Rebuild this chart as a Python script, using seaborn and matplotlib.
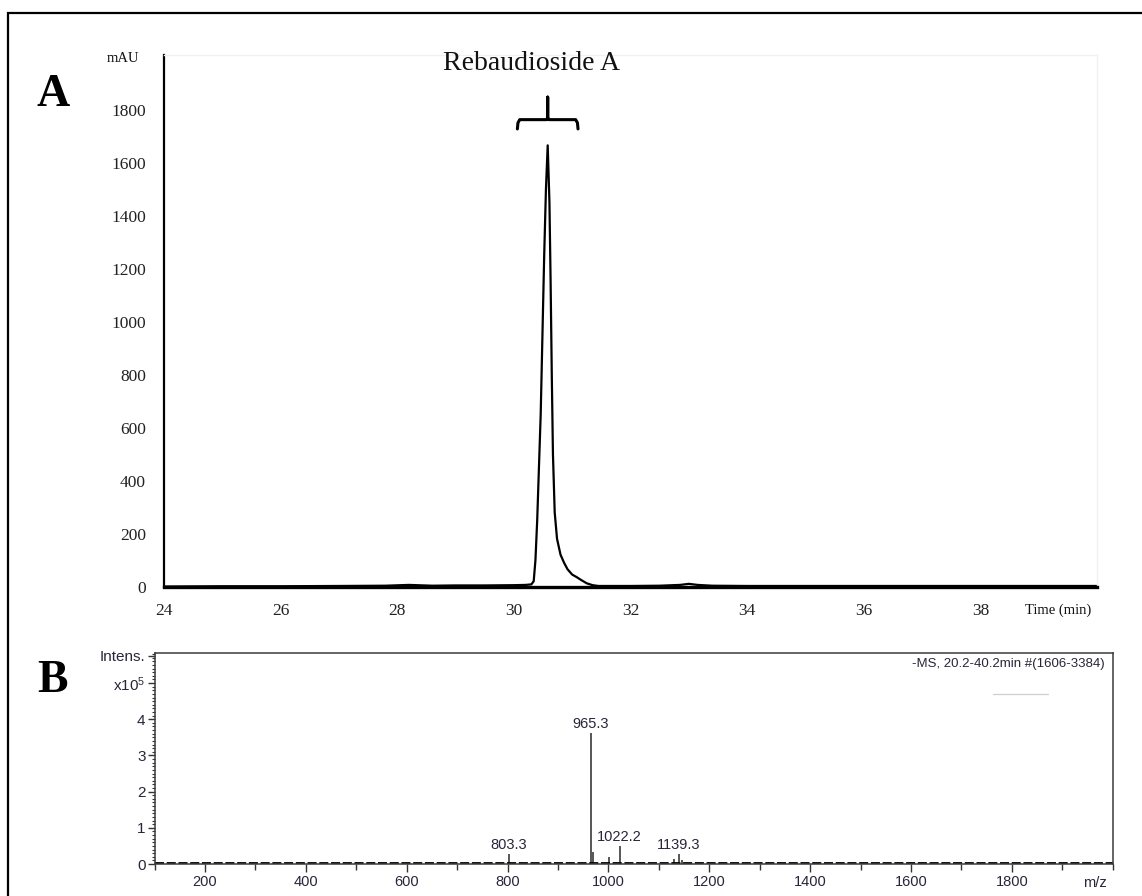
import numpy as np
import pandas as pd
import matplotlib
matplotlib.use("Agg")
import matplotlib.pyplot as plt
from matplotlib.patches import Rectangle
from matplotlib.ticker import MultipleLocator, FixedLocator
import seaborn as sns

# ---------------- data ----------------
# Panel A: HPLC chromatogram (time in min, absorbance in mAU)
time_min = [24.0, 25.0, 26.0, 27.0, 27.8, 28.2, 28.6, 29.0, 29.5, 30.0, 30.2, 30.3,
            30.34, 30.37, 30.40, 30.43, 30.46, 30.49, 30.52, 30.55, 30.58, 30.61,
            30.63, 30.65, 30.67, 30.70, 30.74, 30.80, 30.86, 30.92, 31.00, 31.08,
            31.15, 31.25, 31.35, 31.45, 31.6, 32.0, 32.5, 32.85, 33.0, 33.15, 33.4,
            34.0, 35.0, 36.0, 37.0, 38.0, 39.0, 40.0]
mau = [0, 1, 1, 2, 3, 6, 3, 4, 4, 5, 6, 8,
       20, 100, 250, 450, 650, 950, 1250, 1500, 1665, 1450,
       1150, 800, 500, 280, 180, 120, 90, 65, 45, 35,
       25, 12, 5, 2, 2, 2, 3, 6, 10, 6, 3,
       2, 2, 2, 2, 2, 2, 2]
a_yticks = [0, 200, 400, 600, 800, 1000, 1200, 1400, 1600, 1800]
a_xticks = [24, 26, 28, 30, 32, 34, 36, 38]
peak_name = "Rebaudioside A"
bracket_span = [30.06, 31.10]
bracket_level = 1762

# Panel B: mass spectrum (m/z, intensity x10^5)
mz = [803.3, 965.3, 970.0, 1001.0, 1022.2, 1131.0, 1139.3, 1146.0]
intens = [0.28, 3.61, 0.32, 0.20, 0.50, 0.14, 0.28, 0.10]
labeled_mz = [803.3, 965.3, 1022.2, 1139.3]
b_xticks = [200, 400, 600, 800, 1000, 1200, 1400, 1600, 1800]
b_ytick_vals = [0, 1, 2, 3, 4, 5, 5.75]
b_ytick_labels = ["0", "1", "2", "3", "4", "x10$^{\\mathregular{5}}$", "Intens."]
ms_title = "-MS, 20.2-40.2min #(1606-3384)"

# ---------------- style ----------------
sns.set_theme(style="white")
plt.rcParams["font.family"] = ["Liberation Serif", "DejaVu Serif"]
plt.rcParams["mathtext.fontset"] = "custom"
plt.rcParams["mathtext.rm"] = "Liberation Sans"
plt.rcParams["mathtext.it"] = "Liberation Sans"
plt.rcParams["mathtext.bf"] = "Liberation Sans"

SANS_N = ["Liberation Sans"]
MS_COLOR = "#26263a"

W, H = 1142, 896
fig = plt.figure(figsize=(W / 100, H / 100), dpi=100)
fig.patch.set_facecolor("white")

def fx(px):
    return px / W

def fy(py):
    return 1 - py / H

# outer border (only left and top visible)
fig.patches.append(Rectangle((fx(8), -0.2), 1.3, fy(13) + 0.2, transform=fig.transFigure,
                             fill=False, lw=1.6, edgecolor="black", zorder=0))

# ---------------- Panel A ----------------
axA = fig.add_axes([fx(164), fy(586.5), fx(1097 - 164), (586.5 - 55) / H])
dfA = pd.DataFrame({"time": time_min, "mAU": mau})
sns.lineplot(data=dfA, x="time", y="mAU", ax=axA, color="black", lw=1.6, estimator=None)
axA.set_xlim(24, 40)
axA.set_ylim(0, 2006)
axA.set_xticks(a_xticks)
axA.set_yticks(a_yticks)
axA.set_xlabel("")
axA.set_ylabel("")
axA.tick_params(axis="both", length=0, labelsize=12.5, colors="#222222")
axA.tick_params(axis="y", pad=13)
axA.tick_params(axis="x", pad=12)
for lab in axA.get_xticklabels() + axA.get_yticklabels():
    lab.set_fontfamily(["Liberation Serif"])
axA.spines["left"].set_linewidth(1.6)
axA.spines["bottom"].set_linewidth(2.4)
axA.spines["left"].set_color("black")
axA.spines["bottom"].set_color("black")
for s in ("top", "right"):
    axA.spines[s].set_color("#f1f1f1")
    axA.spines[s].set_linewidth(1.0)
axA.set_facecolor("white")

# curly bracket over the peak
x0, x1 = bracket_span
xc = time_min[int(np.argmax(mau))]
lvl = bracket_level
bx = [x0, x0 + 0.01, x0 + 0.04, xc - 0.02, xc, xc, xc, xc + 0.02, x1 - 0.04, x1 - 0.01, x1]
by = [lvl - 35, lvl - 12, lvl, lvl, lvl + 8, lvl + 85, lvl + 8, lvl, lvl, lvl - 12, lvl - 35]
axA.plot(bx, by, color="black", lw=2.2, solid_capstyle="round", solid_joinstyle="round")
axA.text(30.30, 1975, peak_name, ha="center", va="center", fontsize=20,
         family=["Liberation Serif"], color="#111111")

fig.text(fx(123), fy(59), "mAU", ha="center", va="center", fontsize=10.5,
         family=["Liberation Serif"], color="#111111")
fig.text(fx(1058), fy(610), "Time (min)", ha="center", va="center", fontsize=10.5,
         family=["Liberation Serif"], color="#111111")
fig.text(fx(53), fy(106), "A", ha="center", va="baseline", fontsize=33,
         fontweight="bold", family=["Liberation Serif"], color="black")
fig.text(fx(53), fy(692), "B", ha="center", va="baseline", fontsize=33,
         fontweight="bold", family=["Liberation Serif"], color="black")

# ---------------- Panel B ----------------
axB = fig.add_axes([fx(154.5), fy(864), fx(1112.7 - 154.5), (864 - 653) / H])
axB.vlines(mz, 0, intens, color="#3a3a3a", lw=1.2)
# dashed baseline over the axis
axB.axhline(0.02, color="black", lw=1.3, ls=(0, (5, 1.5)))
axB.set_xlim(100, 2000)
axB.set_ylim(0, 5.83)
axB.xaxis.set_major_locator(FixedLocator(b_xticks))
axB.xaxis.set_minor_locator(MultipleLocator(100))
axB.yaxis.set_major_locator(FixedLocator(b_ytick_vals))
axB.yaxis.set_minor_locator(MultipleLocator(0.1))
axB.set_yticklabels(b_ytick_labels)
axB.set_xticklabels([str(v) for v in b_xticks])
axB.tick_params(axis="both", which="both", direction="out", colors="#333333",
                labelcolor=MS_COLOR, left=True, bottom=True)
axB.tick_params(axis="y", which="major", length=5, width=1.0, labelsize=11, pad=1.5)
axB.tick_params(axis="y", which="minor", length=2.5, width=0.8)
axB.tick_params(axis="x", which="major", length=6, width=1.0, labelsize=10.5, pad=2)
axB.tick_params(axis="x", which="minor", length=4, width=1.0)
for lab in axB.get_xticklabels() + axB.get_yticklabels():
    lab.set_fontfamily(SANS_N)
for s in axB.spines.values():
    s.set_visible(True)
    s.set_color("#3a3a3a")
    s.set_linewidth(1.1)
axB.set_facecolor("white")

for m in labeled_mz:
    h = intens[mz.index(m)]
    axB.text(m, h + 0.06, f"{m:.1f}", ha="center", va="bottom", fontsize=10.5,
             family=SANS_N, color=MS_COLOR)

axB.text(0.992, 0.975, ms_title, transform=axB.transAxes, ha="right", va="top",
         fontsize=9.5, family=SANS_N, color=MS_COLOR)
axB.plot([0.875, 0.932], [0.805, 0.805], transform=axB.transAxes, color="#cfcfcf", lw=0.9)

fig.text(fx(1095), fy(883), "m/z", ha="center", va="center", fontsize=10.5,
         family=SANS_N, color=MS_COLOR)

fig.savefig("out.png", dpi=100, facecolor="white")
